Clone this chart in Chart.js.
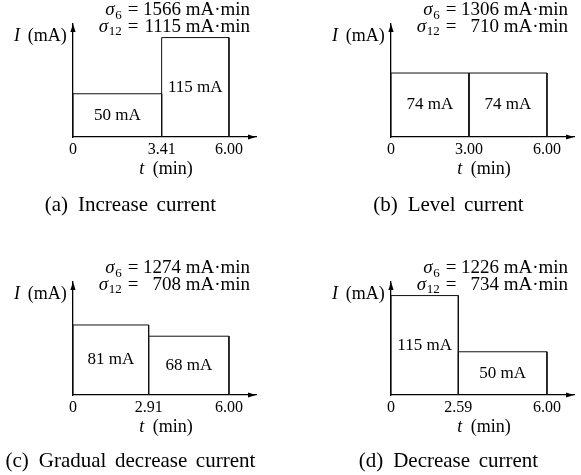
<!DOCTYPE html>
<html>
<head>
<meta charset="utf-8">
<script src="https://cdn.jsdelivr.net/npm/chart.js@4.4.1/dist/chart.umd.min.js"></script>
<style>
  body { margin: 0; background: #fff; width: 581px; height: 475px; position: relative; overflow: hidden; }
  canvas { position: absolute; }
</style>
</head>
<body>
<canvas id="chart-a" style="left:0;top:0" width="318" height="258"></canvas>
<canvas id="chart-b" style="left:318px;top:0" width="263" height="258"></canvas>
<canvas id="chart-c" style="left:0;top:258px" width="318" height="217"></canvas>
<canvas id="chart-d" style="left:318px;top:258px" width="263" height="217"></canvas>
<script>
// Chart data
const panelIds = ['chart-a', 'chart-b', 'chart-c', 'chart-d'];
const panelTags = ['(a)', '(b)', '(c)', '(d)'];
const captions = ['Increase current', 'Level current', 'Gradual decrease current', 'Decrease current'];
const switchTimes = [3.41, 3.00, 2.91, 2.59];
const endTime = 6.00;
const firstCurrents = [50, 74, 81, 115];
const secondCurrents = [115, 74, 68, 50];
const sigma6 = [1566, 1306, 1274, 1226];
const sigma12 = [1115, 710, 708, 734];

const SERIF = '"Liberation Serif", "DejaVu Serif", serif';
const X_MAX = 7.04;   // axis runs a bit past 6 min for the arrow
const Y_MAX = 130.7;

// Format time tick labels
function formatTime(v) {
    return v === 0 ? '0' : v.toFixed(2);
}

// Draw a sequence of text pieces with given gaps, centered on cx
function drawWords(ctx, words, gaps, cx, y) {
    const widths = words.map(w => ctx.measureText(w).width);
    const total = widths.reduce((a, b) => a + b, 0) + gaps.reduce((a, b) => a + b, 0);
    let x = cx - total / 2;
    ctx.textAlign = 'left';
    words.forEach((w, i) => {
        ctx.fillText(w, x, y);
        x += widths[i] + (gaps[i] || 0);
    });
}

// Draw sigma line: σ_sub = value mA·min
function drawSigma(ctx, left, baseline, sub, value) {
    ctx.textBaseline = 'alphabetic';
    ctx.font = '13px ' + SERIF;
    ctx.textAlign = 'right';
    const subW = ctx.measureText(sub).width;
    ctx.fillText(sub, left + 48.7, baseline + 3.5);
    ctx.font = 'italic 19px ' + SERIF;
    ctx.fillText('σ', left + 48.7 - subW - 0.5, baseline);
    ctx.font = '19px ' + SERIF;
    ctx.textAlign = 'center';
    ctx.fillText('=', left + 60, baseline);
    ctx.textAlign = 'right';
    ctx.fillText(String(value), left + 108, baseline);
    ctx.textAlign = 'left';
    ctx.fillText('mA·min', left + 112.7, baseline);
}

// Plugin for arrows, labels and captions
const annotatePlugin = {
    id: 'annotate',
    afterDraw(chart, args, opts) {
        const ctx = chart.ctx;
        const area = chart.chartArea;
        const xs = chart.scales.x;
        const ys = chart.scales.y;
        const i = opts.index;
        ctx.save();
        ctx.fillStyle = '#000';

        // arrow heads
        ctx.beginPath();
        ctx.moveTo(area.left, area.top);
        ctx.lineTo(area.left - 2.6, area.top + 8);
        ctx.lineTo(area.left + 2.6, area.top + 8);
        ctx.closePath();
        ctx.fill();
        ctx.beginPath();
        ctx.moveTo(area.right, area.bottom);
        ctx.lineTo(area.right - 8, area.bottom - 2.6);
        ctx.lineTo(area.right - 8, area.bottom + 2.6);
        ctx.closePath();
        ctx.fill();

        // current labels in the middle of each block
        const bounds = [0, switchTimes[i], endTime];
        const currents = [firstCurrents[i], secondCurrents[i]];
        ctx.font = '17px ' + SERIF;
        ctx.textAlign = 'center';
        ctx.textBaseline = 'middle';
        currents.forEach((c, k) => {
            const cx = xs.getPixelForValue((bounds[k] + bounds[k + 1]) / 2);
            const cy = ys.getPixelForValue(c / 2);
            ctx.fillText(c + ' mA', cx, cy);
        });

        // sigma values
        drawSigma(ctx, area.left, area.bottom - 122, '6', sigma6[i]);
        drawSigma(ctx, area.left, area.bottom - 105.3, '12', sigma12[i]);

        // axis names
        ctx.textBaseline = 'alphabetic';
        ctx.font = 'italic 18px ' + SERIF;
        ctx.textAlign = 'left';
        ctx.fillText('I', area.left - 59, area.bottom - 96.5);
        ctx.font = '18px ' + SERIF;
        ctx.textAlign = 'right';
        ctx.fillText('(mA)', area.left - 6.3, area.bottom - 96.5);
        ctx.font = 'italic 18px ' + SERIF;
        ctx.textAlign = 'left';
        ctx.fillText('t', area.left + 66.3, area.bottom + 37);
        ctx.font = '18px ' + SERIF;
        ctx.textAlign = 'right';
        ctx.fillText('(min)', area.left + 119.7, area.bottom + 37);

        // caption
        ctx.font = '21px ' + SERIF;
        const words = [panelTags[i]].concat(captions[i].split(' '));
        const gaps = words.map((w, k) => (k === 0 ? 10 : 8.6));
        drawWords(ctx, words, gaps, area.left + 61.7, area.bottom + (i < 2 ? 73.5 : 72));
        ctx.restore();
    }
};

// Build a closed block outline from the scale values
function block(x0, x1, h) {
    return [{x: x0, y: 0}, {x: x0, y: h}, {x: x1, y: h}, {x: x1, y: 0}];
}

function createPanel(i) {
    const canvas = document.getElementById(panelIds[i]);
    const W = canvas.width;
    const H = canvas.height;
    const sw = switchTimes[i];

    return new Chart(canvas.getContext('2d'), {
        type: 'scatter',
        data: {
            datasets: [
                { data: block(0, sw, firstCurrents[i]) },
                { data: block(sw, endTime, secondCurrents[i]) }
            ].map(ds => ({
                ...ds,
                showLine: true,
                borderColor: '#111',
                borderWidth: 1,
                pointRadius: 0,
                fill: false,
                clip: false
            }))
        },
        options: {
            responsive: false,
            animation: false,
            events: [],
            layout: {
                padding: { left: 73, top: 24, right: W - 256, bottom: H - 137 - 50 }
            },
            scales: {
                x: {
                    type: 'linear',
                    min: 0,
                    max: X_MAX,
                    afterFit: s => { s.height = 50; },
                    afterBuildTicks: s => { s.ticks = [0, sw, endTime].map(v => ({ value: v })); },
                    grid: { display: false, drawTicks: false },
                    border: { display: true, color: '#000', width: 1.3 },
                    ticks: {
                        color: '#000',
                        font: { family: SERIF, size: 16 },
                        padding: 3,
                        maxRotation: 0,
                        autoSkip: false,
                        callback: v => formatTime(v)
                    }
                },
                y: {
                    min: 0,
                    max: Y_MAX,
                    afterFit: s => { s.width = 0; },
                    grid: { display: false, drawTicks: false },
                    border: { display: true, color: '#000', width: 1.3 },
                    ticks: { display: false }
                }
            },
            plugins: {
                legend: { display: false },
                tooltip: { enabled: false },
                annotate: { index: i }
            }
        },
        plugins: [annotatePlugin]
    });
}

document.addEventListener('DOMContentLoaded', function() {
    panelIds.forEach((id, i) => createPanel(i));
});
</script>
</body>
</html>
